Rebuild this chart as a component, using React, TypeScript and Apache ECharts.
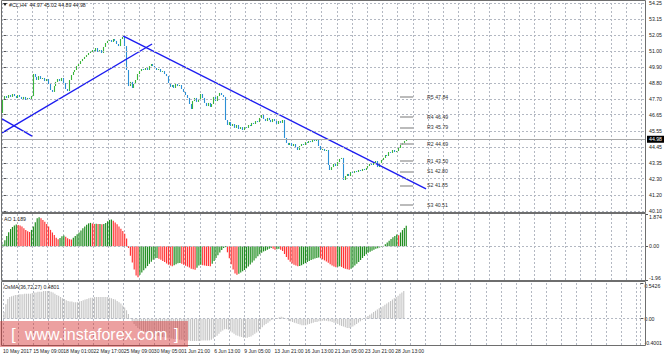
import React, { useEffect, useRef } from 'react';
import * as echarts from 'echarts';

const timeLabels = ['10 May 2017', '15 May 09:00', '18 May 01:00', '22 May 17:00', '25 May 09:00', '30 May 05:00', '1 Jun 21:00', '6 Jun 13:00', '9 Jun 05:00', '13 Jun 21:00', '16 Jun 13:00', '21 Jun 05:00', '23 Jun 21:00', '28 Jun 13:00'];
const LABEL_STEP = 16;
const SLOT_COUNT = 338;

// closes[0] is the open of the first bar, then the close of each H4 bar
const closes = [46.77,
  47.72, 47.92, 47.79, 47.99, 47.86, 48.06, 47.92, 47.79, 47.99, 47.86,
  47.72, 47.86, 47.65, 47.79, 47.72, 47.92, 49.42, 49.22, 49.01, 49.28,
  49.08, 49.15, 48.94, 49.08, 48.74, 48.33, 48.20, 48.60, 48.88, 49.08,
  48.94, 49.15, 48.81, 48.40, 48.26, 49.01, 49.35, 49.56, 49.69, 49.96,
  50.10, 50.30, 50.44, 50.58, 50.71, 50.85, 50.92, 51.05, 50.98, 51.19,
  50.92, 51.05, 50.85, 51.26, 51.53, 51.67, 51.73, 51.60, 51.80, 51.67,
  51.46, 51.32, 51.80, 51.94, 51.32, 49.69, 48.60, 48.88, 48.47, 48.74,
  49.01, 49.42, 49.62, 49.76, 49.69, 49.83, 49.69, 49.96, 50.10, 49.96,
  49.83, 49.69, 49.76, 49.56, 49.62, 49.42, 49.28, 48.81, 48.54, 48.67,
  48.47, 48.74, 48.60, 48.67, 48.40, 48.20, 47.99, 47.79, 47.38, 47.04,
  47.58, 47.79, 47.52, 47.72, 48.06, 47.79, 47.45, 47.24, 47.45, 47.18,
  47.38, 47.86, 47.58, 47.92, 48.13, 47.99, 47.86, 46.29, 45.95, 46.15,
  45.88, 46.02, 45.75, 45.95, 45.68, 45.81, 45.61, 45.81, 45.75, 45.95,
  45.88, 46.09, 46.02, 46.22, 46.15, 46.43, 46.63, 46.36, 46.22, 46.43,
  46.29, 46.15, 46.36, 46.22, 46.02, 46.22, 46.09, 46.29, 45.07, 44.73,
  44.59, 44.73, 44.52, 44.66, 44.45, 44.25, 44.52, 44.66, 44.59, 44.79,
  44.73, 44.86, 44.79, 44.93, 44.86, 45.00, 44.52, 44.25, 44.32, 44.18,
  44.25, 43.23, 42.89, 43.09, 43.30, 43.16, 43.43, 43.64, 43.71, 42.21,
  42.48, 42.62, 42.48, 42.75, 42.69, 42.82, 42.75, 42.89, 42.82, 42.96,
  42.89, 43.03, 43.16, 43.30, 43.23, 43.37, 43.50, 43.09, 43.37, 43.57,
  43.71, 43.91, 43.84, 44.11, 44.05, 44.25, 44.11, 44.18, 44.39, 44.59,
  44.73, 44.86, 44.98];

const aoValues = [
  0.10, 0.35, 0.60, 0.82, 1.00, 1.12, 1.20, 1.26, 1.24, 1.20,
  1.15, 1.05, 0.95, 0.87, 0.83, 0.95, 1.15, 1.40, 1.62, 1.69,
  1.62, 1.52, 1.42, 1.30, 1.15, 0.95, 0.80, 0.65, 0.50, 0.40,
  0.48, 0.58, 0.62, 0.55, 0.47, 0.41, 0.39, 0.50, 0.60, 0.70,
  0.80, 0.92, 1.04, 1.15, 1.25, 1.33, 1.36, 1.32, 1.30, 1.31,
  1.29, 1.30, 1.28, 1.30, 1.35, 1.45, 1.53, 1.55, 1.48, 1.38,
  1.28, 1.15, 1.02, 0.88, 0.72, 0.45, -0.10, -0.55, -0.95, -1.35,
  -1.70, -1.80, -1.65, -1.52, -1.40, -1.28, -1.15, -1.02, -0.90, -0.78,
  -0.70, -0.68, -0.72, -0.78, -0.85, -0.92, -1.00, -1.07, -1.12, -1.16,
  -1.10, -1.04, -0.99, -0.97, -1.02, -1.08, -1.13, -1.18, -1.24, -1.30,
  -1.34, -1.36, -1.25, -1.12, -1.07, -1.10, -1.12, -1.14, -1.15, -1.16,
  -1.02, -0.85, -0.68, -0.52, -0.36, -0.22, -0.10, -0.05, -0.35, -0.70,
  -1.05, -1.35, -1.58, -1.65, -1.60, -1.52, -1.45, -1.38, -1.28, -1.18,
  -1.06, -0.94, -0.82, -0.70, -0.58, -0.47, -0.38, -0.30, -0.26, -0.20,
  -0.14, -0.10, -0.15, -0.20, -0.18, -0.15, -0.20, -0.28, -0.45, -0.62,
  -0.78, -0.90, -1.00, -1.07, -1.12, -1.16, -1.15, -1.10, -1.04, -0.98,
  -0.92, -0.86, -0.80, -0.75, -0.71, -0.68, -0.66, -0.70, -0.76, -0.82,
  -0.88, -0.96, -1.05, -1.12, -1.18, -1.22, -1.19, -1.16, -1.20, -1.27,
  -1.31, -1.34, -1.36, -1.30, -1.22, -1.12, -1.02, -0.92, -0.80, -0.68,
  -0.56, -0.46, -0.38, -0.32, -0.26, -0.20, -0.15, -0.11, -0.07, -0.03,
  0.02, 0.12, 0.22, 0.32, 0.42, 0.52, 0.60, 0.68, 0.64, 0.80,
  0.94, 1.06, 1.19];

const osmaValues = [
  0.10, 0.22, 0.30, 0.33, 0.34, 0.35, 0.36, 0.36, 0.37, 0.37,
  0.37, 0.38, 0.38, 0.38, 0.38, 0.39, 0.40, 0.40, 0.41, 0.41,
  0.41, 0.42, 0.42, 0.42, 0.42, 0.41, 0.40, 0.38, 0.36, 0.35,
  0.33, 0.31, 0.30, 0.28, 0.27, 0.26, 0.26, 0.25, 0.25, 0.25,
  0.26, 0.27, 0.28, 0.29, 0.30, 0.31, 0.32, 0.32, 0.33, 0.33,
  0.33, 0.33, 0.33, 0.33, 0.33, 0.33, 0.32, 0.31, 0.30, 0.29,
  0.27, 0.25, 0.23, 0.20, 0.17, 0.13, 0.07, 0.01, -0.04, -0.08,
  -0.11, -0.14, -0.16, -0.18, -0.19, -0.20, -0.21, -0.22, -0.23, -0.24,
  -0.25, -0.26, -0.26, -0.27, -0.28, -0.28, -0.29, -0.29, -0.30, -0.30,
  -0.31, -0.31, -0.31, -0.32, -0.32, -0.32, -0.33, -0.33, -0.33, -0.34,
  -0.34, -0.34, -0.34, -0.34, -0.34, -0.33, -0.33, -0.33, -0.33, -0.33,
  -0.32, -0.30, -0.28, -0.26, -0.23, -0.20, -0.18, -0.16, -0.16, -0.17,
  -0.19, -0.21, -0.23, -0.25, -0.26, -0.27, -0.28, -0.29, -0.29, -0.29,
  -0.28, -0.27, -0.25, -0.23, -0.21, -0.19, -0.16, -0.13, -0.10, -0.08,
  -0.06, -0.04, -0.02, -0.01, 0.00, 0.01, 0.02, 0.03, 0.02, 0.01,
  -0.01, -0.03, -0.04, -0.05, -0.06, -0.07, -0.08, -0.09, -0.10, -0.10,
  -0.10, -0.09, -0.08, -0.07, -0.06, -0.05, -0.05, -0.04, -0.04, -0.03,
  -0.03, -0.03, -0.04, -0.04, -0.05, -0.06, -0.07, -0.08, -0.10, -0.11,
  -0.12, -0.13, -0.14, -0.14, -0.13, -0.12, -0.10, -0.08, -0.06, -0.04,
  -0.02, 0.00, 0.02, 0.04, 0.06, 0.08, 0.10, 0.12, 0.14, 0.16,
  0.17, 0.19, 0.21, 0.23, 0.25, 0.27, 0.29, 0.31, 0.33, 0.35,
  0.38, 0.40, 0.42];

// tick values in ascending order
const priceTicks = [40.10, 41.20, 42.30, 43.35, 44.45, 45.55, 46.65, 47.70, 48.80, 49.90, 51.00, 52.05, 53.15, 54.25];
const aoTicks = [-1.96, 0, 1.874];
const aoTickLabels = ['-1.96', '0.00', '1.874'];
const osmaTicks = [-0.4001, 0, 0.5426];
const osmaTickLabels = ['-0.4001', '0.00', '0.5426'];

const pivotNames = ['R5', 'R4', 'R3', 'R2', 'R1', 'S1', 'S2', 'S3'];
const pivotValues = [47.84, 46.49, 45.79, 44.69, 43.50, 42.80, 41.85, 40.51];
const pivotSpan = [208.7, 215.6];
const bidPrice = 44.98;

// trend lines: [barIndex, price] endpoints
const trendLines = [
  [[-0.5, 45.41], [78.4, 51.46]],
  [[-0.5, 46.36], [15.3, 45.20]],
  [[63.1, 52.01], [222.4, 41.60]],
];

const headerText = '#CL,H4  44.97 45.02 44.89 44.98';
const aoLabel = 'AO 1.189';
const osmaLabel = 'OsMA(36,72,27) 0.4801';

const FONT = '"Liberation Sans", Arial, sans-serif';
const FS = 5.2;
const GRID_COLOR = '#b3b8c2';
const UP = '#3bb53b';
const DOWN = '#2b8fd6';
const AO_UP = '#1e8c1e';
const AO_DOWN = '#ff3434';
const OSMA = '#c4c4c4';
const TREND = '#1c1cf0';

function labelFrom(ticks: number[], labels: string[]) {
  return (v: number) => {
    const k = ticks.findIndex((t) => Math.abs(t - v) < 1e-6);
    return k >= 0 ? labels[k] : '';
  };
}

export default function App() {
  const ref = useRef<HTMLDivElement>(null);
  useEffect(() => {
    document.body.style.margin = '0';
    const chart = echarts.init(ref.current!, null, { renderer: 'svg' });

    const categories = Array.from({ length: SLOT_COUNT }, (_, i) =>
      i % LABEL_STEP === 0 && timeLabels[i / LABEL_STEP] ? timeLabels[i / LABEL_STEP] : ''
    );
    const candles = closes.slice(1).map((c, i) => {
      const o = closes[i];
      return [o, c, Math.min(o, c), Math.max(o, c)];
    });
    const aoData = aoValues.map((v, i) => ({
      value: v,
      itemStyle: { color: i === 0 || v >= aoValues[i - 1] ? AO_UP : AO_DOWN },
    }));

    const catAxis = (gridIndex: number, showLabel: boolean) => ({
      type: 'category',
      gridIndex,
      data: categories,
      boundaryGap: true,
      axisLine: { show: false },
      axisTick: { show: false },
      axisLabel: showLabel
        ? { show: true, interval: LABEL_STEP - 1, align: 'left', fontSize: 5, color: '#222', margin: 3, fontFamily: FONT, padding: [0, 0, 0, -1] }
        : { show: false },
      splitLine: { show: true, interval: 7, lineStyle: { color: GRID_COLOR, type: [2, 2], width: 1 } },
    });

    const yLabel = { fontSize: FS, color: '#222', margin: 4, fontFamily: FONT };

    const markLineBase = { silent: true, symbol: ['none', 'none'], animation: false };

    const option: any = {
      animation: false,
      backgroundColor: '#ffffff',
      grid: [
        { left: 2, top: 3, width: 643, height: 208 },
        { left: 2, top: 214, width: 643, height: 66 },
        { left: 2, top: 283, width: 643, height: 62 },
      ],
      xAxis: [
        catAxis(0, false),
        catAxis(1, false),
        catAxis(2, true),
        { type: 'value', gridIndex: 0, min: -0.5, max: SLOT_COUNT - 0.5, show: false },
      ],
      yAxis: [
        {
          type: 'value', gridIndex: 0, position: 'right', min: 40.10, max: 54.25,
          axisLine: { show: false }, splitLine: { show: false },
          axisTick: { show: true, customValues: priceTicks, length: 3, lineStyle: { color: '#555' } },
          axisLabel: { ...yLabel, customValues: priceTicks, formatter: (v: number) => v.toFixed(2) },
        },
        {
          type: 'value', gridIndex: 1, position: 'right', min: -1.96, max: 1.874,
          axisLine: { show: false }, splitLine: { show: false },
          axisTick: { show: true, customValues: aoTicks, length: 3, lineStyle: { color: '#555' } },
          axisLabel: { ...yLabel, customValues: aoTicks, formatter: labelFrom(aoTicks, aoTickLabels), verticalAlignMaxLabel: 'top', verticalAlignMinLabel: 'bottom' },
        },
        {
          type: 'value', gridIndex: 2, position: 'right', min: -0.4001, max: 0.5426,
          axisLine: { show: false }, splitLine: { show: false },
          axisTick: { show: true, customValues: osmaTicks, length: 3, lineStyle: { color: '#555' } },
          axisLabel: { ...yLabel, customValues: osmaTicks, formatter: labelFrom(osmaTicks, osmaTickLabels), verticalAlignMaxLabel: 'top', verticalAlignMinLabel: 'bottom' },
        },
      ],
      series: [
        {
          type: 'line', xAxisIndex: 3, yAxisIndex: 0, data: [[-0.5, 47]], symbol: 'none', z: 1,
          lineStyle: { width: 0 },
          markLine: {
            ...markLineBase,
            data: [
              ...priceTicks.map((v) => ({
                yAxis: v, lineStyle: { color: GRID_COLOR, type: [2, 2], width: 1 }, label: { show: false },
              })),
              {
                yAxis: bidPrice, lineStyle: { color: '#a9a9a9', type: 'solid', width: 1 },
                label: {
                  show: true, position: 'end', distance: 2, formatter: bidPrice.toFixed(2),
                  backgroundColor: '#000', color: '#fff', fontSize: FS, padding: [1, 2, 1, 2], fontFamily: FONT,
                },
              },
              ...pivotValues.map((v, k) => [
                {
                  coord: [pivotSpan[0], v],
                  lineStyle: { color: '#a4a4a4', type: 'solid', width: 1.5 },
                  label: {
                    show: true, position: 'end', distance: 14,
                    formatter: `${pivotNames[k]} ${v.toFixed(2)}`,
                    color: '#333', fontSize: FS, fontFamily: FONT, padding: [6, 0, 0, 0],
                  },
                },
                { coord: [pivotSpan[1], v] },
              ]),
            ],
          },
        },
        {
          type: 'candlestick', xAxisIndex: 0, yAxisIndex: 0, data: candles, barWidth: 1.2, z: 3,
          itemStyle: { color: UP, color0: DOWN, borderColor: UP, borderColor0: DOWN, borderWidth: 1.1 },
        },
        ...trendLines.map((pts) => ({
          type: 'line', xAxisIndex: 3, yAxisIndex: 0, data: pts, symbol: 'none', z: 4,
          lineStyle: { color: TREND, width: 1.4 },
        })),
        {
          type: 'bar', xAxisIndex: 1, yAxisIndex: 1, data: aoData, barWidth: '62%', z: 3,
          markLine: {
            ...markLineBase,
            data: [{ yAxis: 0, lineStyle: { color: GRID_COLOR, type: [2, 2], width: 1 }, label: { show: false } }],
          },
        },
        {
          type: 'bar', xAxisIndex: 2, yAxisIndex: 2, data: osmaValues, barWidth: '58%', z: 3,
          itemStyle: { color: OSMA },
          markLine: {
            ...markLineBase,
            data: [{ yAxis: 0, lineStyle: { color: GRID_COLOR, type: [2, 2], width: 1 }, label: { show: false } }],
          },
        },
      ],
      graphic: [
        { type: 'rect', silent: true, z: 100, shape: { x: 1.5, y: 0.5, width: 644, height: 212 }, style: { fill: 'none', stroke: '#6e6e6e', lineWidth: 1 } },
        { type: 'rect', silent: true, z: 100, shape: { x: 1.5, y: 213.5, width: 644, height: 67 }, style: { fill: 'none', stroke: '#6e6e6e', lineWidth: 1 } },
        { type: 'rect', silent: true, z: 100, shape: { x: 1.5, y: 281.5, width: 644, height: 64 }, style: { fill: 'none', stroke: '#6e6e6e', lineWidth: 1 } },
        { type: 'polygon', silent: true, z: 100, shape: { points: [[3, 3], [7, 3], [5, 6]] }, style: { fill: '#222' } },
        { type: 'text', silent: true, z: 100, x: 9, y: 5, style: { text: headerText, fill: '#222', font: `${FS}px ${FONT}`, verticalAlign: 'middle' } },
        { type: 'text', silent: true, z: 100, x: 4, y: 219, style: { text: aoLabel, fill: '#222', font: `${FS}px ${FONT}`, verticalAlign: 'middle' } },
        { type: 'text', silent: true, z: 100, x: 4, y: 287, style: { text: osmaLabel, fill: '#222', font: `${FS}px ${FONT}`, verticalAlign: 'middle' } },
        { type: 'rect', silent: true, z: 110, shape: { x: 0, y: 321, width: 188, height: 26 }, style: { fill: 'rgba(212,44,44,0.45)' } },
        { type: 'text', silent: true, z: 111, x: 11, y: 334, style: { text: '[', fill: '#fff', font: `17px ${FONT}`, verticalAlign: 'middle' } },
        { type: 'text', silent: true, z: 111, x: 25, y: 334, style: { text: 'www.instaforex.com', fill: '#fff', font: `16px ${FONT}`, verticalAlign: 'middle' } },
        { type: 'text', silent: true, z: 111, x: 174, y: 334, style: { text: ']', fill: '#fff', font: `17px ${FONT}`, verticalAlign: 'middle' } },
      ],
    };

    chart.setOption(option);
    return () => chart.dispose();
  }, []);
  return <div ref={ref} style={{ width: 665, height: 356, background: '#fff' }} />;
}
